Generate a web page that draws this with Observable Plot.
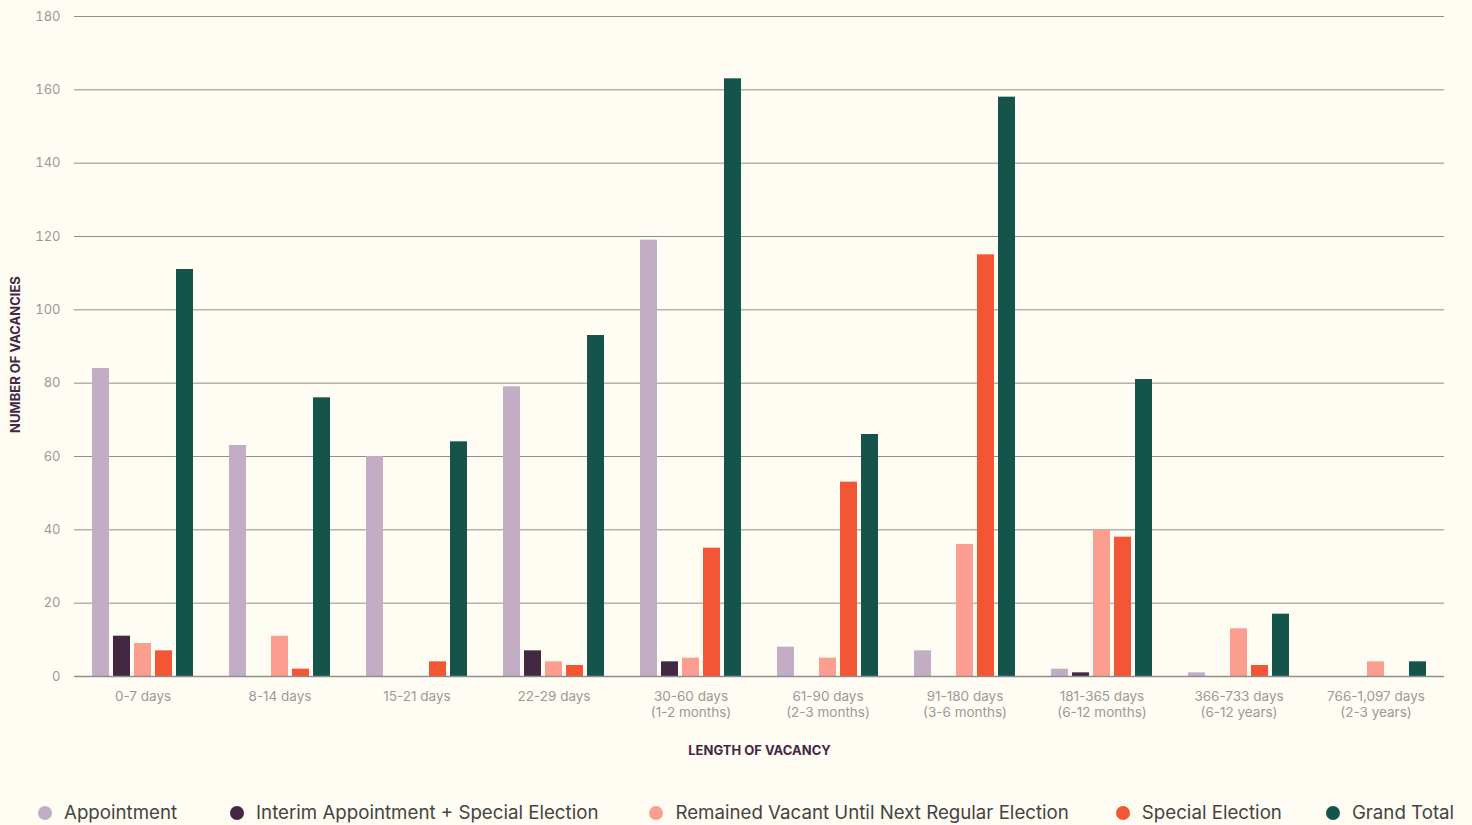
<!DOCTYPE html>
<html>
<head>
<meta charset="utf-8">
<script src="https://cdn.jsdelivr.net/npm/d3@7"></script>
<script src="https://cdn.jsdelivr.net/npm/@observablehq/plot@0.6"></script>
<style>
  html, body { margin: 0; padding: 0; background: #fffcf3; }
  body { font-family: Inter, "Noto Sans", sans-serif; width: 1472px; height: 825px; overflow: hidden; }
  #legend { display: flex; align-items: center; padding-left: 38px; margin-top: 21px; }
  .item { display: flex; align-items: center; gap: 12px; font-size: 18.7px; color: #444; white-space: nowrap; }
  .dot { width: 14px; height: 14px; border-radius: 50%; display: inline-block; }
</style>
</head>
<body>
<div id="chart"></div>
<div id="legend"></div>
<script>
const categories = [
  "0-7 days", "8-14 days", "15-21 days", "22-29 days",
  "30-60 days\n(1-2 months)", "61-90 days\n(2-3 months)", "91-180 days\n(3-6 months)",
  "181-365 days\n(6-12 months)", "366-733 days\n(6-12 years)", "766-1,097 days\n(2-3 years)"
];
const series = [
  "Appointment",
  "Interim Appointment + Special Election",
  "Remained Vacant Until Next Regular Election",
  "Special Election",
  "Grand Total"
];
const appointment = [84, 63, 60, 79, 119, 8, 7, 2, 1, 0];
const interim     = [11, 0, 0, 7, 4, 0, 0, 1, 0, 0];
const remained    = [9, 11, 0, 4, 5, 5, 36, 40, 13, 4];
const special     = [7, 2, 4, 3, 35, 53, 115, 38, 3, 0];
const grandTotal  = [111, 76, 64, 93, 163, 66, 158, 81, 17, 4];
const colors = ["#c3adc5", "#432843", "#fb9e8f", "#f35634", "#14544a"];
const yTicks = [0, 20, 40, 60, 80, 100, 120, 140, 160, 180];

const seriesValues = [appointment, interim, remained, special, grandTotal];
const data = [];
categories.forEach((c, i) => {
  series.forEach((s, j) => {
    const v = seriesValues[j][i];
    if (v > 0) data.push({category: c, series: s, value: v});
  });
});

const chart = Plot.plot({
  width: 1472,
  height: 780,
  marginLeft: 72,
  marginRight: 26,
  marginTop: 16,
  marginBottom: 104,
  style: {background: "transparent", fontFamily: "Inter, 'Noto Sans', sans-serif", fontSize: "13px", color: "#9a9a9a"},
  fx: {domain: categories, padding: 0},
  x: {domain: series, axis: null, paddingInner: 0.19, paddingOuter: 0.8},
  y: {domain: [0, 180]},
  color: {domain: series, range: colors},
  marks: [
    Plot.gridY(yTicks, {stroke: "#8e8e8e", strokeOpacity: 1, strokeWidth: 1}),
    Plot.axisY(yTicks, {tickSize: 0, tickPadding: 14, label: "NUMBER OF VACANCIES", labelAnchor: "center", labelArrow: "none", labelOffset: 64}),
    Plot.axisFx({anchor: "bottom", tickSize: 0, tickPadding: 13, lineHeight: 1.2, fontSize: 13.5, label: "LENGTH OF VACANCY", labelAnchor: "center", labelOffset: 78}),
    Plot.barY(data, {fx: "category", x: "series", y: "value", fill: "series"}),
    Plot.ruleY([0], {stroke: "#8e8e8e", strokeWidth: 1.5})
  ]
});
document.getElementById("chart").appendChild(chart);

// style axis labels
chart.querySelectorAll('[aria-label="y-axis label"] text, [aria-label="fx-axis label"] text').forEach(t => {
  t.setAttribute("fill", "#432843");
  t.setAttribute("font-weight", "700");
  t.setAttribute("font-size", "13");
  t.textContent = t.textContent.replace(/[↑→↓←]\s*/g, "").trim();
});
chart.querySelectorAll('[aria-label="y-axis label"] text').forEach(t => {
  const tr = t.getAttribute("transform") || "";
  const m = tr.match(/translate\(([-\d.]+),\s*([-\d.]+)\)/);
  if (m) t.setAttribute("transform", tr.replace(m[0], `translate(${m[1]},${+m[2] + 8})`));
});

const legend = document.getElementById("legend");
const gaps = [0, 53, 51, 47, 44];
series.forEach((s, j) => {
  const item = document.createElement("div");
  item.className = "item";
  item.style.marginLeft = gaps[j] + "px";
  const dot = document.createElement("span");
  dot.className = "dot";
  dot.style.background = colors[j];
  const label = document.createElement("span");
  label.textContent = s;
  item.appendChild(dot);
  item.appendChild(label);
  legend.appendChild(item);
});
</script>
</body>
</html>
